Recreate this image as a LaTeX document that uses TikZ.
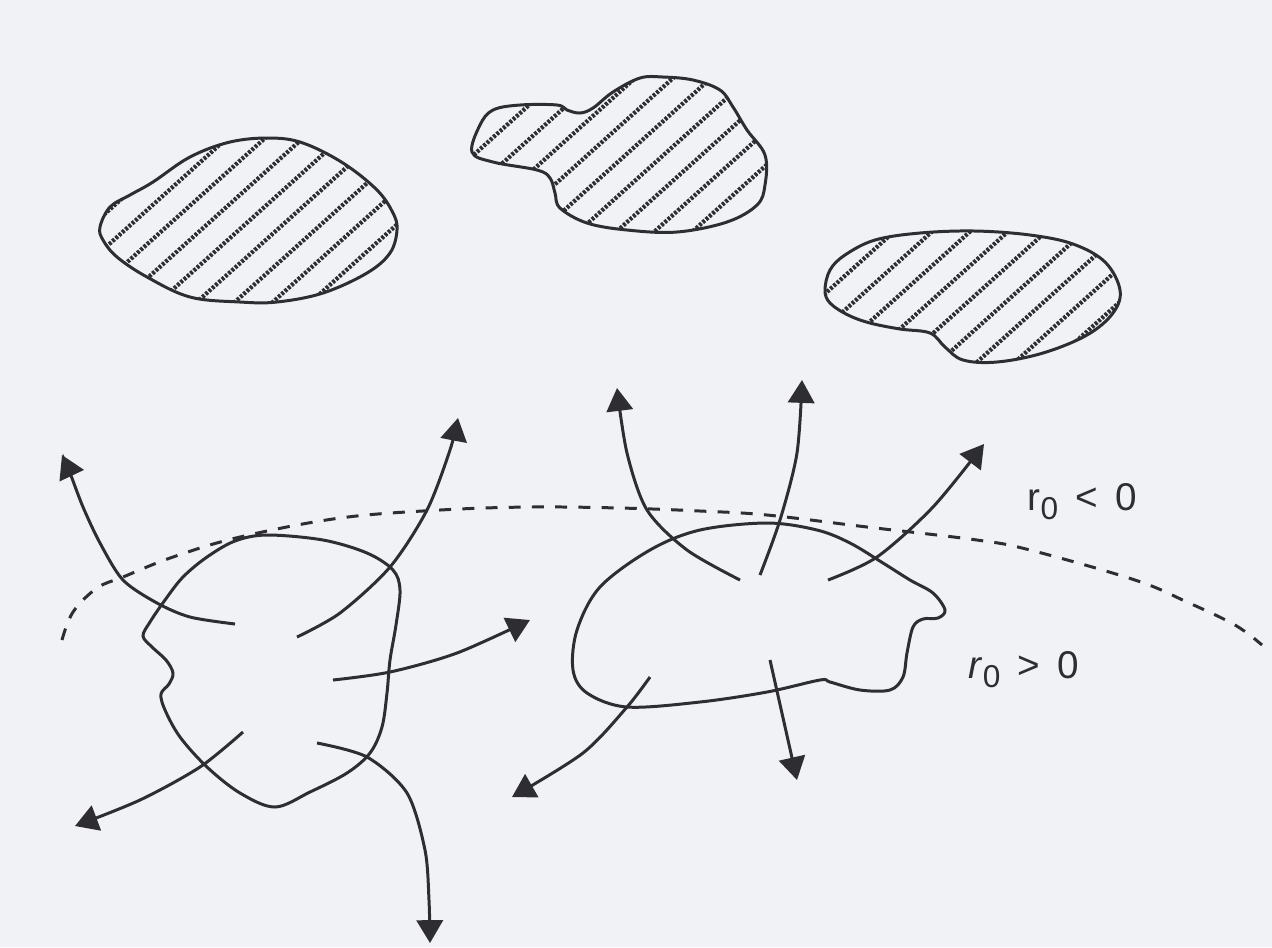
\documentclass[tikz,border=0pt]{standalone}
\usepackage{fontspec}
\setmainfont{Liberation Sans}
\usepackage{xcolor}
\usepackage{tikz}
\usetikzlibrary{arrows.meta}

\definecolor{paper}{RGB}{240,242,246}
\definecolor{ink}{RGB}{45,45,50}
\newcommand{\rsub}[1]{\raisebox{-2.6pt}{\fontsize{9}{10}\selectfont #1}}

\begin{document}
\begin{tikzpicture}[
  x=0.01cm, y=-0.01cm,
  blob/.style={draw=ink, line width=0.85pt},
  hatch/.style={ink, line width=1.2pt, dash pattern=on 0.8pt off 0.45pt},
  flow/.style={draw=ink, line width=0.85pt, -{Triangle[length=6.5pt, width=7.5pt]}},
  border/.style={draw=ink, line width=0.85pt, dash pattern=on 3.4pt off 3.2pt},
  lbl/.style={anchor=base west, inner sep=0pt, text=ink, font=\fontsize{11}{13}\selectfont}
]
\fill[paper] (0,0) rectangle (1272,947);
\useasboundingbox (0,0) rectangle (1272,947);

% hatched clouds
\def\cloudA{(100,227) (110,207) (130,195) (153,182) (190,157) (230,142) (270,138) (303,143)
  (343,163) (377,190) (393,213) (397,230) (390,253) (367,273) (323,293) (277,302)
  (240,302) (190,297) (147,277) (117,257) (103,240)}
\def\cloudB{(472,152) (480,125) (493,110) (520,105) (557,105) (567,110) (580,113) (593,108)
  (613,92) (640,78) (663,77) (693,80) (720,90) (733,107) (747,130) (765,155) (765,185)
  (757,205) (727,222) (677,232) (627,230) (587,223) (560,208) (555,193) (550,178)
  (537,170) (493,162)}
\def\cloudC{(825,290) (830,270) (845,255) (875,240) (920,233) (975,231) (1030,235) (1073,244)
  (1105,262) (1120,290) (1113,313) (1087,335) (1043,353) (997,362) (963,360) (945,347)
  (930,333) (900,329) (870,323) (848,315) (830,303)}

\begin{scope}
  \clip plot[smooth cycle, tension=0.6] coordinates {\cloudA};
  \foreach \x in {-380,-342,...,400}
    \draw[hatch] ({250+\x-200},{220+180}) -- ({250+\x+200},{220-180});
\end{scope}
\draw[blob] plot[smooth cycle, tension=0.6] coordinates {\cloudA};

\begin{scope}
  \clip plot[smooth cycle, tension=0.6] coordinates {\cloudB};
  \foreach \x in {-380,-342,...,400}
    \draw[hatch] ({620+\x-200},{160+180}) -- ({620+\x+200},{160-180});
\end{scope}
\draw[blob] plot[smooth cycle, tension=0.6] coordinates {\cloudB};

\begin{scope}
  \clip plot[smooth cycle, tension=0.6] coordinates {\cloudC};
  \foreach \x in {-380,-342,...,400}
    \draw[hatch] ({970+\x-200},{300+180}) -- ({970+\x+200},{300-180});
\end{scope}
\draw[blob] plot[smooth cycle, tension=0.6] coordinates {\cloudC};

% boundary
\draw[border] plot[smooth, tension=0.6] coordinates {(62,640) (73,612) (97,588) (123,577) (173,557)
  (240,537) (340,518) (440,510) (530,507) (620,508) (700,511) (767,515) (867,527)
  (977,540) (1030,550) (1135,580) (1187,602) (1235,625) (1262,645)};

% left cell
\draw[blob] plot[smooth cycle, tension=0.55] coordinates {(267,535) (323,540) (367,553) (393,570)
  (400,590) (396,625) (390,660) (387,693) (382,727) (370,753) (347,773)
  (310,792) (275,807) (240,793) (207,767) (180,737) (165,710) (161,694)
  (169,684) (173,673) (166,660) (152,647) (143,636) (150,622) (165,600) (183,577)
  (207,557) (235,541)};
\draw[flow] plot[smooth] coordinates {(235,624) (190,617) (157,603) (123,580) (100,543) (83,507) (70,473) (62,455)};
\draw[flow] plot[smooth] coordinates {(297,637) (340,613) (390,567) (427,510) (450,450) (458,418)};
\draw[flow] plot[smooth] coordinates {(333,680) (390,672) (457,653) (530,620)};
\draw[flow] plot[smooth] coordinates {(243,732) (200,767) (140,800) (75,826)};
\draw[flow] plot[smooth] coordinates {(317,743) (367,757) (407,793) (425,850) (429,900) (430,943)};

% right cell
\draw[blob] plot[smooth cycle, tension=0.55] coordinates {(767,523) (817,530) (850,543) (883,563)
  (910,580) (933,593) (945,610) (938,618) (923,619) (913,627) (907,653) (903,677)
  (890,690) (860,690) (830,682) (820,680) (767,692) (700,702) (627,707) (587,693)
  (573,670) (577,630) (600,587) (650,550) (700,530)};
\draw[flow] plot[smooth] coordinates {(740,580) (687,550) (647,510) (627,453) (617,388)};
\draw[flow] plot[smooth] coordinates {(760,575) (780,520) (797,453) (802,380)};
\draw[flow] plot[smooth] coordinates {(828,580) (877,557) (933,507) (984,444)};
\draw[flow] plot[smooth] coordinates {(650,677) (627,707) (583,753) (512,797)};
\draw[flow] (770,660) -- (797,780);

% labels
\node[lbl] (neg) at (1027,510) {r\rsub{0} \,<\, 0};
\node[lbl] (pos) at (968,678) {\textit{r}\rsub{0} \,>\, 0};
\end{tikzpicture}
\end{document}
